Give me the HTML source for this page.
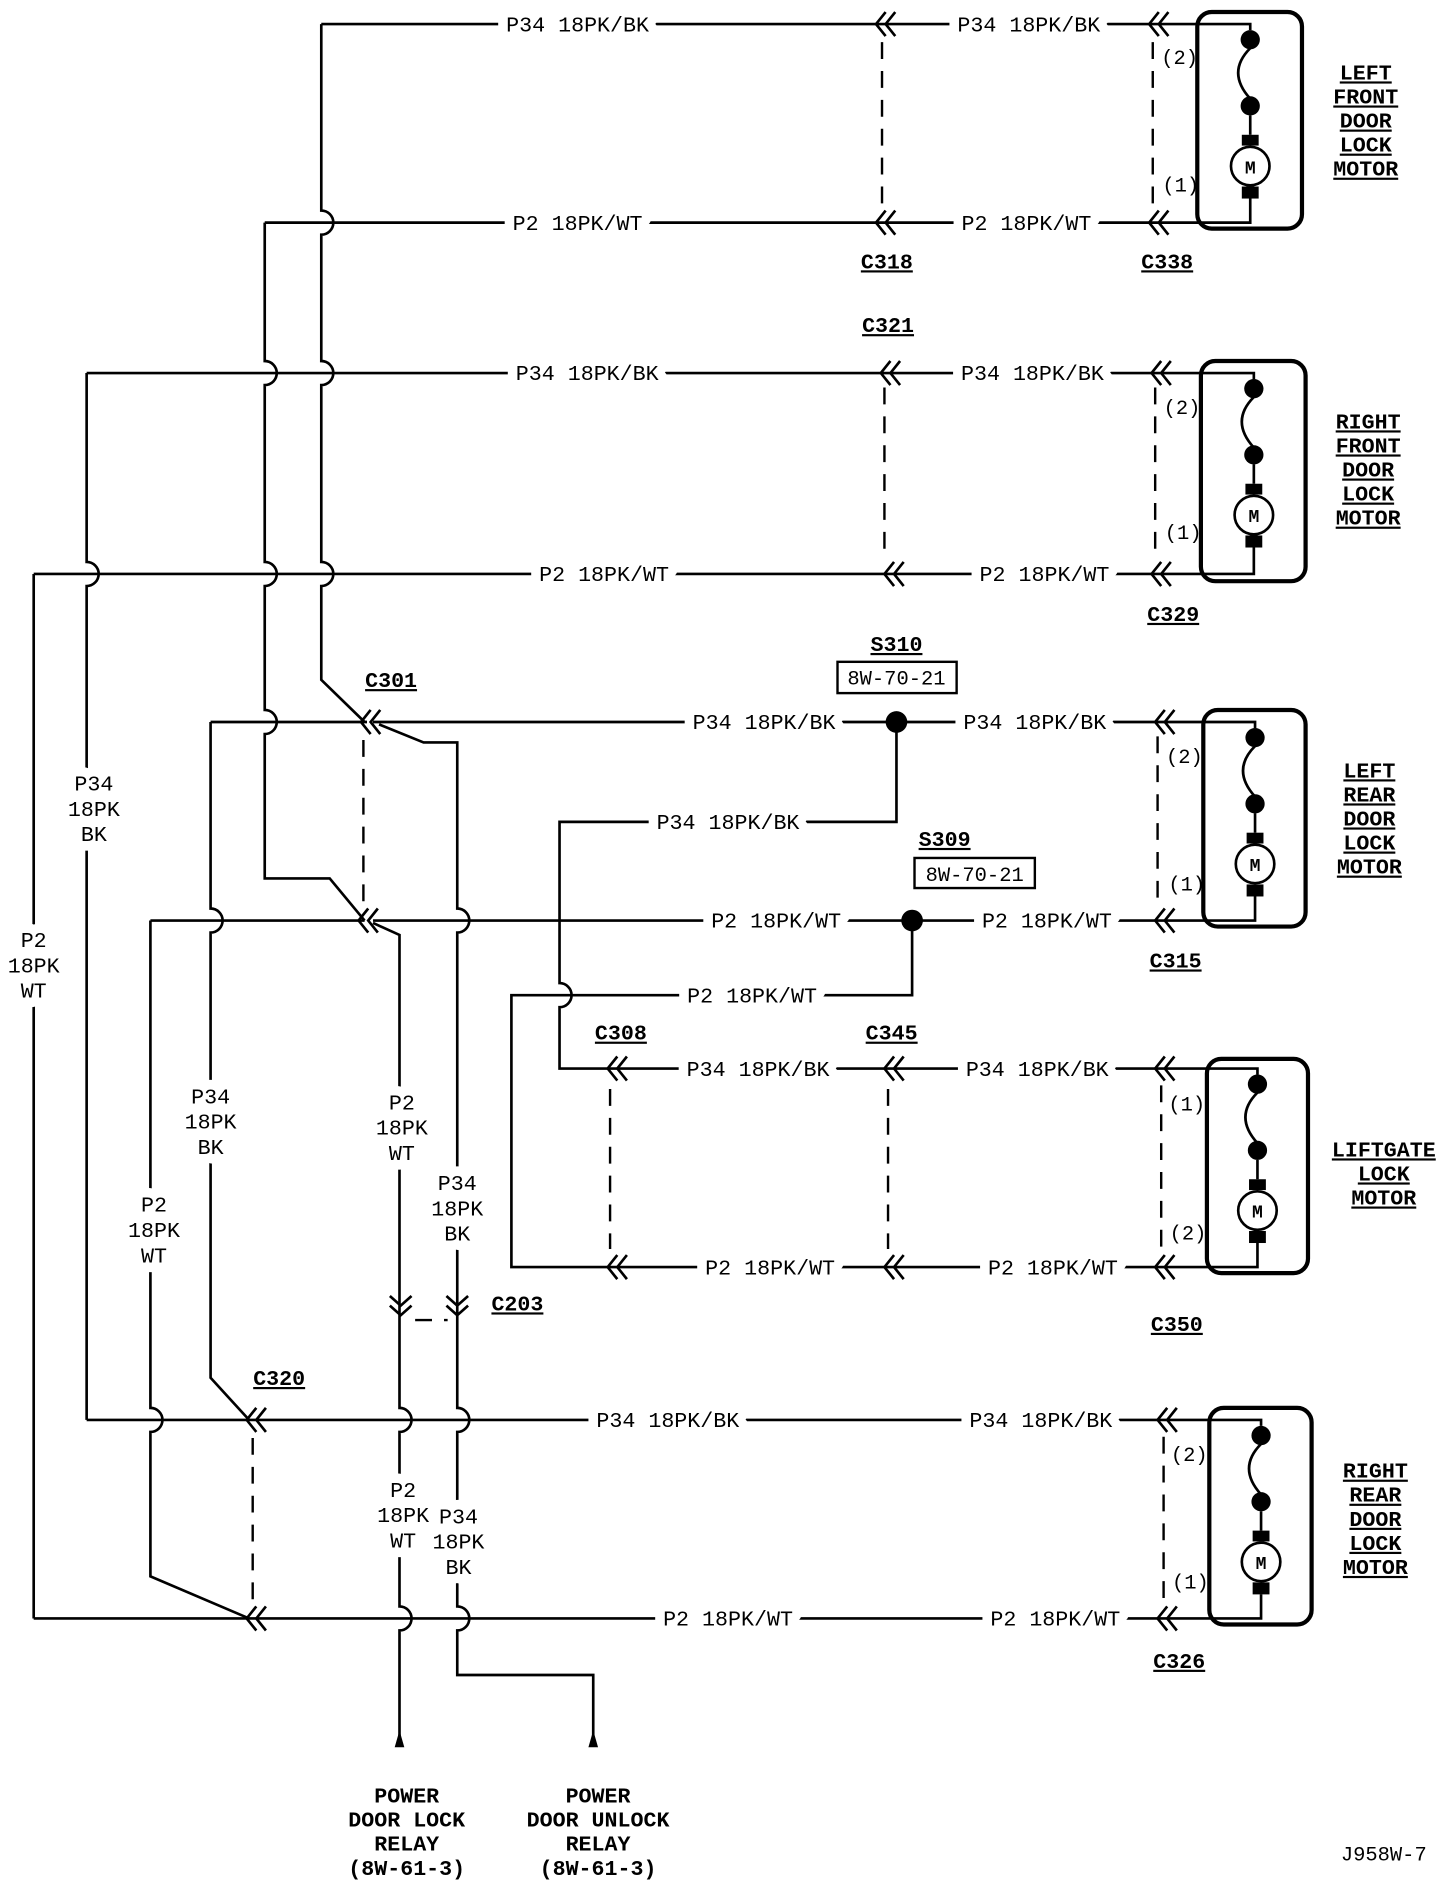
<!DOCTYPE html>
<html><head><meta charset="utf-8">
<style>
html,body{margin:0;padding:0;background:#fff;}
svg{display:block;}
.w{fill:none;stroke:#000;stroke-width:2.2;}
.d{fill:none;stroke:#000;stroke-width:2;stroke-dasharray:14 10;}
text{font-family:"Liberation Mono",monospace;font-size:18px;fill:#000;}
.l{text-anchor:middle;stroke:#fff;stroke-width:16px;paint-order:stroke;stroke-linejoin:round;}
.c{text-anchor:middle;font-weight:bold;text-decoration:underline;font-size:19px;}
.t{text-anchor:middle;font-weight:bold;text-decoration:underline;font-size:20px;}
.p{font-size:17px;}
.b{text-anchor:middle;font-weight:bold;font-size:19px;}
</style></head><body>
<svg width="1456" height="1888" viewBox="0 0 1210 1569" xmlns="http://www.w3.org/2000/svg">
<defs>
<path id="ch" d="M3 -10 L-5 0 L3 10 M11 -10 L3 0 L11 10" fill="none" stroke="#000" stroke-width="2.2"/>
<path id="chd" d="M-9 -8 L0 0 L9 -8 M-9 0 L0 8 L9 0" fill="none" stroke="#000" stroke-width="2.2"/>
<g id="mot">
<circle cx="0" cy="13" r="8"/>
<circle cx="0" cy="68" r="8"/>
<path d="M0 20 Q-20 40 0 62" fill="none" stroke="#000" stroke-width="2.2"/>
<path d="M0 76 V92" fill="none" stroke="#000" stroke-width="2.2"/>
<rect x="-7" y="92" width="14" height="9"/>
<circle cx="0" cy="118" r="16" fill="#fff" stroke="#000" stroke-width="2.2"/>
<rect x="-7" y="135" width="14" height="10"/>
<text x="0" y="124" text-anchor="middle" style="font-size:15px;font-weight:bold">M</text>
</g>
</defs>

<path class="w" d="M267 20 H1039 V25 M220 185 H1039 V150"/>
<path class="w" d="M72 310 H1042 V315 M28 477 H1042 V455"/>
<path class="w" d="M175 600 H305 M310 600 H1043 V605 M125 765 H303 M310 765 H1043 V740"/>
<path class="w" d="M745 600 V683 H465 V817 A10 10 0 0 1 465 837 V888 H1045 V893"/>
<path class="w" d="M758 765 V827 H425 V1053 H1045 V1030"/>
<path class="w" d="M72 1180 H1048 V1185 M28 1345 H1048 V1325"/>

<path class="w" d="M267 20 V175 A10 10 0 0 1 267 195 V300 A10 10 0 0 1 267 320 V467 A10 10 0 0 1 267 487 V565 L303 600"/>
<path class="w" d="M220 185 V300 A10 10 0 0 1 220 320 V467 A10 10 0 0 1 220 487 V590 A10 10 0 0 1 220 610 V730 H274 L303 765"/>
<path class="w" d="M72 310 V467 A10 10 0 0 1 72 487 V1180"/>
<path class="w" d="M28 477 V1345"/>
<path class="w" d="M175 600 V755 A10 10 0 0 1 175 775 V1145 L207 1180"/>
<path class="w" d="M125 765 V1170 A10 10 0 0 1 125 1190 V1310 L207 1345"/>
<path class="w" d="M315 602 L352 617 H380 V755 A10 10 0 0 1 380 775 V1170 A10 10 0 0 1 380 1190 V1335 A10 10 0 0 1 380 1355 V1392 H493 V1445"/>
<path class="w" d="M310 767 L332 777 V1170 A10 10 0 0 1 332 1190 V1335 A10 10 0 0 1 332 1355 V1445"/>
<polygon points="332,1438 328,1452 336,1452"/>
<polygon points="493,1438 489,1452 497,1452"/>

<circle cx="745" cy="600" r="9"/>
<circle cx="758" cy="765" r="9"/>
<rect x="696" y="550" width="99" height="26" fill="none" stroke="#000" stroke-width="2"/>
<rect x="760" y="713" width="100" height="25" fill="none" stroke="#000" stroke-width="2"/>
<text x="745" y="569" text-anchor="middle" style="font-size:17px">8W-70-21</text>
<text x="810" y="732" text-anchor="middle" style="font-size:17px">8W-70-21</text>

<path class="d" d="M733 35 V170 M735 322 V465 M302 615 V752 M507 905 V1038 M738 905 V1038 M210 1195 V1332 M345 1097 H372"/>
<path class="d" d="M958 35 V170 M960 322 V465 M962 612 V752 M965 902 V1040 M967 1194 V1332"/>

<use href="#ch" x="733" y="20"/><use href="#ch" x="960" y="20"/>
<use href="#ch" x="733" y="185"/><use href="#ch" x="960" y="185"/>
<use href="#ch" x="737" y="310"/><use href="#ch" x="962" y="310"/>
<use href="#ch" x="740" y="477"/><use href="#ch" x="962" y="477"/>
<use href="#ch" x="305" y="600"/><use href="#ch" x="965" y="600"/>
<use href="#ch" x="303" y="765"/><use href="#ch" x="965" y="765"/>
<use href="#ch" x="510" y="888"/><use href="#ch" x="740" y="888"/><use href="#ch" x="965" y="888"/>
<use href="#ch" x="510" y="1053"/><use href="#ch" x="740" y="1053"/><use href="#ch" x="965" y="1053"/>
<use href="#ch" x="210" y="1180"/><use href="#ch" x="967" y="1180"/>
<use href="#ch" x="210" y="1345"/><use href="#ch" x="967" y="1345"/>
<use href="#chd" x="333" y="1085"/><use href="#chd" x="380" y="1085"/>

<rect x="995" y="10" width="87" height="180" rx="12" fill="none" stroke="#000" stroke-width="3.5"/>
<use href="#mot" x="1039" y="20"/>
<rect x="998" y="300" width="87" height="183" rx="12" fill="none" stroke="#000" stroke-width="3.5"/>
<use href="#mot" x="1042" y="310"/>
<rect x="1000" y="590" width="85" height="180" rx="12" fill="none" stroke="#000" stroke-width="3.5"/>
<use href="#mot" x="1043" y="600"/>
<rect x="1003" y="880" width="84" height="178" rx="12" fill="none" stroke="#000" stroke-width="3.5"/>
<use href="#mot" x="1045" y="888"/>
<rect x="1005" y="1170" width="85" height="180" rx="12" fill="none" stroke="#000" stroke-width="3.5"/>
<use href="#mot" x="1048" y="1180"/>

<text class="p" x="965" y="53">(2)</text><text class="p" x="966" y="159">(1)</text>
<text class="p" x="967" y="344">(2)</text><text class="p" x="968" y="448">(1)</text>
<text class="p" x="969" y="634">(2)</text><text class="p" x="971" y="740">(1)</text>
<text class="p" x="971" y="923">(1)</text><text class="p" x="972" y="1030">(2)</text>
<text class="p" x="973" y="1214">(2)</text><text class="p" x="974" y="1320">(1)</text>

<g class="l">
<text x="480" y="26">P34 18PK/BK</text><text x="855" y="26">P34 18PK/BK</text>
<text x="488" y="316">P34 18PK/BK</text><text x="858" y="316">P34 18PK/BK</text>
<text x="635" y="606">P34 18PK/BK</text><text x="860" y="606">P34 18PK/BK</text>
<text x="605" y="689">P34 18PK/BK</text>
<text x="630" y="894">P34 18PK/BK</text><text x="862" y="894">P34 18PK/BK</text>
<text x="555" y="1186">P34 18PK/BK</text><text x="865" y="1186">P34 18PK/BK</text>
<text x="480" y="191">P2 18PK/WT</text><text x="853" y="191">P2 18PK/WT</text>
<text x="502" y="483">P2 18PK/WT</text><text x="868" y="483">P2 18PK/WT</text>
<text x="645" y="771">P2 18PK/WT</text><text x="870" y="771">P2 18PK/WT</text>
<text x="625" y="833">P2 18PK/WT</text>
<text x="640" y="1059">P2 18PK/WT</text><text x="875" y="1059">P2 18PK/WT</text>
<text x="605" y="1351">P2 18PK/WT</text><text x="877" y="1351">P2 18PK/WT</text>
<text x="78" y="657">P34</text><text x="78" y="678">18PK</text><text x="78" y="699">BK</text>
<text x="28" y="787">P2</text><text x="28" y="808">18PK</text><text x="28" y="829">WT</text>
<text x="175" y="917">P34</text><text x="175" y="938">18PK</text><text x="175" y="959">BK</text>
<text x="128" y="1007">P2</text><text x="128" y="1028">18PK</text><text x="128" y="1049">WT</text>
<text x="334" y="922">P2</text><text x="334" y="943">18PK</text><text x="334" y="964">WT</text>
<text x="380" y="989">P34</text><text x="380" y="1010">18PK</text><text x="380" y="1031">BK</text>
<text x="335" y="1244">P2</text><text x="335" y="1265">18PK</text><text x="335" y="1286">WT</text>
<text x="381" y="1266">P34</text><text x="381" y="1287">18PK</text><text x="381" y="1308">BK</text>
</g>

<g class="c">
<text x="737" y="223">C318</text><text x="970" y="223">C338</text>
<text x="738" y="276">C321</text><text x="975" y="516">C329</text>
<text x="325" y="571">C301</text><text x="745" y="541">S310</text>
<text x="785" y="703">S309</text><text x="977" y="804">C315</text>
<text x="516" y="864">C308</text><text x="741" y="864">C345</text>
<text x="430" y="1089">C203</text><text x="978" y="1106">C350</text>
<text x="232" y="1151">C320</text><text x="980" y="1386">C326</text>
</g>

<g class="t">
<text x="1135" y="66">LEFT</text><text x="1135" y="86">FRONT</text><text x="1135" y="106">DOOR</text><text x="1135" y="126">LOCK</text><text x="1135" y="146">MOTOR</text>
<text x="1137" y="356">RIGHT</text><text x="1137" y="376">FRONT</text><text x="1137" y="396">DOOR</text><text x="1137" y="416">LOCK</text><text x="1137" y="436">MOTOR</text>
<text x="1138" y="646">LEFT</text><text x="1138" y="666">REAR</text><text x="1138" y="686">DOOR</text><text x="1138" y="706">LOCK</text><text x="1138" y="726">MOTOR</text>
<text x="1150" y="961">LIFTGATE</text><text x="1150" y="981">LOCK</text><text x="1150" y="1001">MOTOR</text>
<text x="1143" y="1228">RIGHT</text><text x="1143" y="1248">REAR</text><text x="1143" y="1268">DOOR</text><text x="1143" y="1288">LOCK</text><text x="1143" y="1308">MOTOR</text>
</g>

<g class="b">
<text x="338" y="1498">POWER</text><text x="338" y="1518">DOOR LOCK</text><text x="338" y="1538">RELAY</text><text x="338" y="1558">(8W-61-3)</text>
<text x="497" y="1498">POWER</text><text x="497" y="1518">DOOR UNLOCK</text><text x="497" y="1538">RELAY</text><text x="497" y="1558">(8W-61-3)</text>
</g>
<text x="1150" y="1546" text-anchor="middle" style="font-size:17px">J958W-7</text>
</svg>
</body></html>
